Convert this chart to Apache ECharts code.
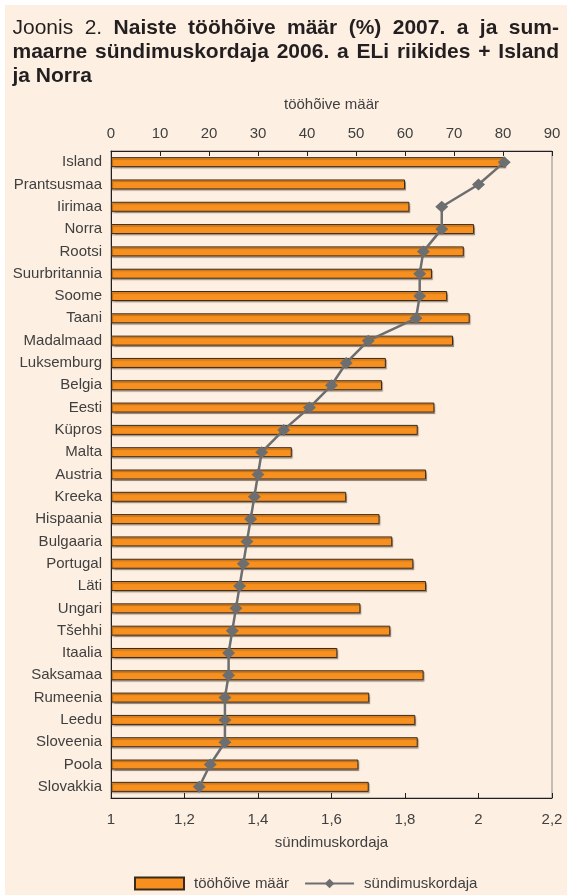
<!DOCTYPE html>
<html>
<head>
<meta charset="utf-8">
<script src="https://cdn.jsdelivr.net/npm/echarts@6/dist/echarts.min.js"></script>
<style>
html,body{margin:0;padding:0;}
body{background:linear-gradient(#FDF0E3,#FDF0E3) 5px 5px / 562px 890px no-repeat, #ffffff;}
#c{width:567px;height:895px;}
</style>
</head>
<body>
<div id="c"></div>
<script>
const countries = ['Island','Prantsusmaa','Iirimaa','Norra','Rootsi','Suurbritannia','Soome','Taani','Madalmaad','Luksemburg','Belgia','Eesti','Küpros','Malta','Austria','Kreeka','Hispaania','Bulgaaria','Portugal','Läti','Ungari','Tšehhi','Itaalia','Saksamaa','Rumeenia','Leedu','Sloveenia','Poola','Slovakkia'];
const employment = [80.5, 60.0, 60.9, 74.1, 72.0, 65.5, 68.6, 73.2, 69.8, 56.1, 55.3, 66.0, 62.6, 36.9, 64.3, 48.0, 54.8, 57.4, 61.7, 64.3, 50.9, 57.0, 46.2, 63.8, 52.7, 62.1, 62.6, 50.5, 52.6];
const fertility = [2.07, 2.00, 1.90, 1.90, 1.85, 1.84, 1.84, 1.83, 1.70, 1.64, 1.60, 1.54, 1.47, 1.41, 1.40, 1.39, 1.38, 1.37, 1.36, 1.35, 1.34, 1.33, 1.32, 1.32, 1.31, 1.31, 1.31, 1.27, 1.24];
const seriesNames = ['tööhõive määr', 'sündimuskordaja'];
const titleLines = [
  [['Joonis',0],['2.',0],['Naiste',1],['tööhõive',1],['määr',1],['(%)',1],['2007.',1],['a',1],['ja',1],['sum-',1]],
  [['maarne',1],['sündimuskordaja',1],['2006.',1],['a',1],['ELi',1],['riikides',1],['+',1],['Island',1]],
  [['ja',1],['Norra',1]]
];

const FONT = '"Liberation Sans", Arial, sans-serif';
const TFS = 21;
const ctx = document.createElement('canvas').getContext('2d');
function tw(t, b){ ctx.font = (b ? 'bold ' : '') + TFS + 'px ' + FONT; return ctx.measureText(t).width; }
const tLeft = 12.5, tRight = 559;
const lineY = [28, 52, 76];
const graphics = [];
titleLines.forEach((words, li) => {
  const widths = words.map(w => tw(w[0], w[1]));
  const total = widths.reduce((a, b) => a + b, 0);
  const justify = li < titleLines.length - 1;
  const gap = justify ? (tRight - tLeft - total) / (words.length - 1) : tw(' ', 1);
  let x = tLeft;
  words.forEach((w, i) => {
    graphics.push({
      type: 'text', x: x, y: lineY[li], silent: true,
      style: { text: w[0], font: (w[1] ? 'bold ' : '') + TFS + 'px ' + FONT, fill: '#231f20', verticalAlign: 'middle', align: 'left' }
    });
    x += widths[i] + gap;
  });
});

const txt = '#404040';
const fmt = v => (Math.round(v * 10) / 10).toString().replace('.', ',');
const chart = echarts.init(document.getElementById('c'), null, {renderer: 'canvas'});
chart.setOption({
  animation: false,
  backgroundColor: 'transparent',
  textStyle: { fontFamily: FONT },
  graphic: graphics,
  grid: { left: 111, right: 15, top: 151, bottom: 97, show: true, borderColor: '#8a8a8a', borderWidth: 1, backgroundColor: 'transparent' },
  legend: {
    left: 129, top: 871, itemWidth: 49, itemHeight: 12, itemGap: 15,
    data: [{ name: seriesNames[0], icon: 'rect' }, { name: seriesNames[1] }],
    textStyle: { fontSize: 15, color: txt, padding: [0, 0, 0, 5] }
  },
  xAxis: [
    { type: 'value', position: 'top', min: 0, max: 90, interval: 10,
      name: 'tööhõive määr', nameLocation: 'middle', nameGap: 39,
      nameTextStyle: { fontSize: 15, color: txt },
      axisLine: { show: true, lineStyle: { color: '#231f20', width: 1 } },
      axisTick: { show: true, inside: true, length: 5, lineStyle: { color: '#231f20' } },
      axisLabel: { fontSize: 15, color: txt, margin: 10 },
      splitLine: { show: false } },
    { type: 'value', position: 'bottom', min: 1, max: 2.2, interval: 0.2,
      name: 'sündimuskordaja', nameLocation: 'middle', nameGap: 37,
      nameTextStyle: { fontSize: 15, color: txt },
      axisLine: { show: true, lineStyle: { color: '#231f20', width: 1 } },
      axisTick: { show: true, inside: true, length: 5, lineStyle: { color: '#231f20' } },
      axisLabel: { fontSize: 15, color: txt, margin: 14, formatter: fmt },
      splitLine: { show: false } }
  ],
  yAxis: {
    type: 'category', data: countries, inverse: true,
    axisLine: { show: true, lineStyle: { color: '#231f20', width: 1 } },
    axisTick: { show: false },
    axisLabel: { fontSize: 15, color: txt, margin: 9 }
  },
  series: [
    { name: seriesNames[0], type: 'bar', xAxisIndex: 0, data: employment, barWidth: 10,
      itemStyle: { color: '#F7901E', borderColor: '#3b2a1a', borderWidth: 1,
        shadowColor: 'rgba(60,40,30,0.35)', shadowOffsetX: 1, shadowOffsetY: 1.5, shadowBlur: 1 } },
    { name: seriesNames[1], type: 'line', xAxisIndex: 1, data: fertility, z: 5,
      symbol: 'diamond', symbolSize: [13, 12],
      lineStyle: { color: '#6d6e70', width: 2.5 },
      itemStyle: { color: '#6d6e70' } }
  ]
});
</script>
</body>
</html>
